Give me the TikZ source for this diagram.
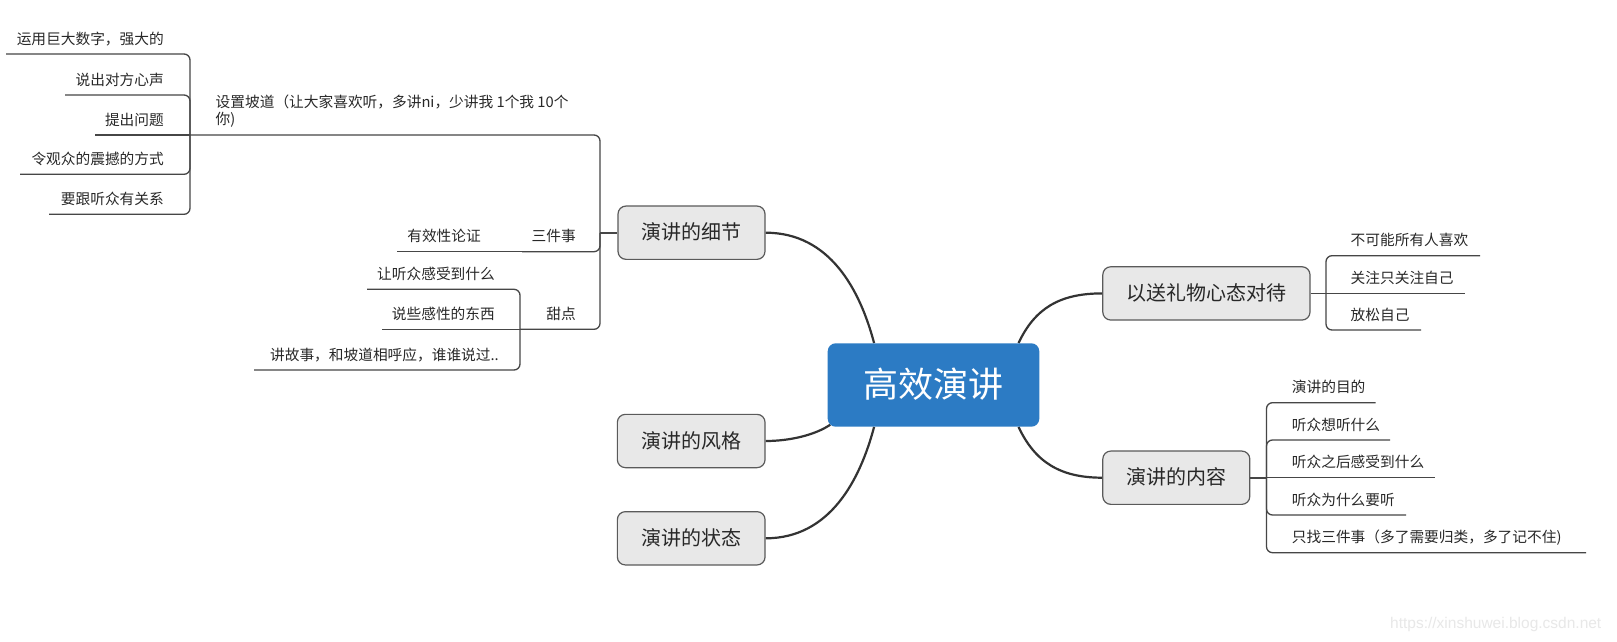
\documentclass[tikz,border=0pt]{standalone}
\usepackage{fontspec}
\setmainfont{Noto Sans CJK SC}
\newfontfamily\wmfont{Liberation Sans}
\usetikzlibrary{calc,backgrounds}
\definecolor{rootblue}{RGB}{44,123,196}
\definecolor{boxfill}{RGB}{232,232,232}
\definecolor{boxborder}{RGB}{90,90,90}
\definecolor{txt}{RGB}{40,40,40}
\definecolor{curvec}{RGB}{51,51,51}
\definecolor{linec}{RGB}{70,70,70}
\definecolor{wmc}{RGB}{232,232,232}
\tikzset{
  topic/.style={draw=boxborder, fill=boxfill, line width=1.2pt, rounded corners=8pt,
    inner sep=0pt, minimum height=53.3pt, text=txt,
    font=\fontsize{20}{24}\selectfont, text height=16pt, text depth=1.6pt},
  rootbox/.style={fill=rootblue, rounded corners=8pt, inner sep=0pt,
    minimum width=211.6pt, minimum height=83.4pt, text=white,
    font=\fontsize{35}{40}\selectfont, text height=28pt, text depth=2.8pt},
  leaf/.style={inner sep=0pt, text=txt, font=\fontsize{14.7}{17.3}\selectfont},
  branch/.style={draw=curvec, line width=2.2pt},
  uline/.style={draw=linec, line width=1.3pt, rounded corners=6pt},
  link/.style={draw=linec, line width=1.8pt},
}
\begin{document}
\begin{tikzpicture}[x=1pt,y=-1pt]
\useasboundingbox (0,0) rectangle (1617,642);

% main topics
\node[rootbox] (root) at (933.5,385) {高效演讲};
\node[topic, minimum width=147pt] (xijie) at (691.5,232.7) {演讲的细节};
\node[topic, minimum width=147.7pt] (fengge) at (691.2,441) {演讲的风格};
\node[topic, minimum width=147.7pt] (zhuangtai) at (691.2,538.3) {演讲的状态};
\node[topic, minimum width=207.2pt] (gift) at (1206.4,293.4) {以送礼物心态对待};
\node[topic, minimum width=147pt] (neirong) at (1176.3,477.7) {演讲的内容};

\begin{scope}[on background layer]
\fill[white] (0,0) rectangle (1617,642);
\draw[branch] (xijie.east) .. controls (830,232.7) and (860,290) .. ($(root.north west)+(46.6,0)$);
\draw[branch] ($(root.south west)+(2.8,-2.2)$) .. controls (815,435) and (790,441) .. (fengge.east);
\draw[branch] ($(root.south west)+(46.6,0)$) .. controls (860,480) and (830,538.3) .. (zhuangtai.east);
\draw[branch] ($(root.north east)+(-21,0)$) .. controls (1035,308) and (1060,293.4) .. (gift.west);
\draw[branch] ($(root.south east)+(-21,0)$) .. controls (1035,462) and (1060,477.7) .. (neirong.west);
\end{scope}

% ---------- left: 演讲的细节 ----------
\coordinate (jx) at (600,232.7);
\draw[link] (jx) -- (xijie.west);

% 设置坡道
\coordinate (ja) at (190,135);
\node[leaf, anchor=north west, align=left] (shezhi) at (215.5,94.0)
  {\rule{0pt}{0.88em}设置坡道（让大家喜欢听，多讲ni，少讲我 1个我 10个\\你)};
\draw[uline] (ja) -- (600,135) -- (jx);

\node[leaf, anchor=base east] (a1) at (164,44.2) {运用巨大数字，强大的};
\node[leaf, anchor=base east] (a2) at (164,85.2) {说出对方心声};
\node[leaf, anchor=base east] (a3) at (164,125.2) {提出问题};
\node[leaf, anchor=base east] (a4) at (164,164.5) {令观众的震撼的方式};
\node[leaf, anchor=base east] (a5) at (164,204.5) {要跟听众有关系};
\draw[uline] (6,54) -- (190,54) -- (ja);
\draw[uline] (65,95) -- (190,95) -- (ja);
\draw[uline] (95,135) -- (ja);
\draw[uline] (20,174.3) -- (190,174.3) -- (ja);
\draw[uline] (49,214.3) -- (190,214.3) -- (ja);

% 三件事
\coordinate (jb) at (522,251.7);
\node[leaf, anchor=base east] (sanjian) at (576,241.9) {三件事};
\node[leaf, anchor=base east] (youxiao) at (481,241.9) {有效性论证};
\draw[uline] (jb) -- (600,251.7) -- (jx);
\draw[uline] (397,251.7) -- (jb);

% 甜点
\coordinate (jc) at (520,329.3);
\node[leaf, anchor=base east] (tiandian) at (576,319.5) {甜点};
\draw[uline] (jc) -- (600,329.3) -- (jx);
\node[leaf, anchor=base east] (c1) at (495,279.5) {让听众感受到什么};
\node[leaf, anchor=base east] (c2) at (495,319.5) {说些感性的东西};
\node[leaf, anchor=base east] (c3) at (499,360.2) {讲故事，和坡道相呼应，谁谁说过..};
\draw[uline] (367,289.3) -- (520,289.3) -- (jc);
\draw[uline] (382,329.3) -- (jc);
\draw[uline] (254,370) -- (520,370) -- (jc);

% ---------- right: 以送礼物心态对待 ----------
\coordinate (jg) at (1326,293.4);
\draw[link] (gift.east) -- (jg);
\node[leaf, anchor=base west] (g1) at (1350.5,245.9) {不可能所有人喜欢};
\node[leaf, anchor=base west] (g2) at (1350.5,283.4) {关注只关注自己};
\node[leaf, anchor=base west] (g3) at (1350.5,320.2) {放松自己};
\draw[uline] (jg) -- (1326,255.7) -- (1480,255.7);
\draw[uline] (jg) -- (1465,293.4);
\draw[uline] (jg) -- (1326,330) -- (1421,330);

% ---------- right: 演讲的内容 ----------
\coordinate (jn) at (1266.5,477.7);
\draw[link] (neirong.east) -- (jn);
\node[leaf, anchor=base west] (n1) at (1291.7,392.9) {演讲的目的};
\node[leaf, anchor=base west] (n2) at (1291.7,430.2) {听众想听什么};
\node[leaf, anchor=base west] (n3) at (1291.7,467.9) {听众之后感受到什么};
\node[leaf, anchor=base west] (n4) at (1291.7,505.2) {听众为什么要听};
\node[leaf, anchor=base west] (n5) at (1291.7,542.9) {只找三件事（多了需要归类，多了记不住)};
\draw[uline] (jn) -- (1266.5,402.7) -- (1375.7,402.7);
\draw[uline] (jn) -- (1266.5,440) -- (1390,440);
\draw[uline] (jn) -- (1435,477.7);
\draw[uline] (jn) -- (1266.5,515) -- (1406,515);
\draw[uline] (jn) -- (1266.5,552.7) -- (1586,552.7);

% watermark
\node[inner sep=0pt, anchor=base west, text=wmc, font=\wmfont\fontsize{15.5}{18}\selectfont] (wm) at (1390,628.5) {https://xinshuwei.blog.csdn.net};
\end{tikzpicture}
\end{document}
